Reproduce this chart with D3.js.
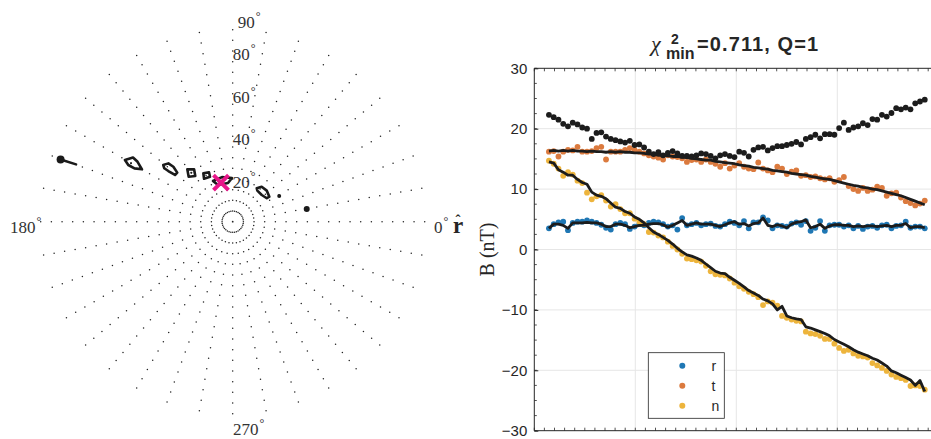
<!DOCTYPE html>
<html>
<head>
<meta charset="utf-8">
<script src="https://cdn.jsdelivr.net/npm/d3@7"></script>
<style>
  body { margin: 0; background: #fff; }
  svg { display: block; }
</style>
</head>
<body>
<svg id="fig" width="931" height="439"></svg>
<script>
// ---------- data: right panel (field components, nT) ----------
var t0 = 0.145, dt = 0.0471;   // sample times along the x axis
var Bmag = [22.3,21.9,21.5,20.8,20.4,21.0,20.7,20.2,20.0,18.3,
            19.3,19.4,18.7,18.3,18.1,17.9,17.7,18.0,17.3,17.4,
            16.9,16.2,15.8,16.1,15.6,16.0,16.3,15.9,15.5,15.5,
            15.4,15.6,15.9,15.8,15.5,15.1,15.6,15.8,15.5,15.3,
            16.2,16.0,15.4,16.5,16.9,17.0,16.4,16.8,17.1,17.1,
            17.3,17.5,17.8,17.4,18.3,18.6,19.0,18.4,19.1,19.1,
            19.0,20.1,21.0,19.8,20.2,20.4,20.9,20.6,21.6,21.5,
            22.3,22.0,22.6,23.4,23.2,23.5,23.2,24.2,24.5,24.8];
var Br = [3.5,4.2,4.5,4.6,3.2,4.4,4.6,4.6,4.8,4.6,
          4.4,4.1,3.6,3.3,4.2,4.4,4.2,3.4,3.8,4.2,
          4.0,4.4,4.6,4.5,4.2,3.8,4.0,3.3,5.2,4.0,
          4.2,4.4,4.0,4.2,4.3,3.9,3.8,4.2,4.6,4.4,
          4.0,4.7,3.5,4.5,4.5,5.3,4.8,3.5,4.0,3.9,
          3.8,4.3,4.5,4.1,4.7,3.1,3.6,4.7,3.1,4.0,
          4.1,4.1,3.8,4.0,3.5,3.9,3.4,3.8,3.9,3.6,
          4.0,4.1,3.5,3.9,4.0,4.6,3.6,3.8,3.8,3.5];
var Bt = [16.2,16.3,15.4,16.2,16.5,16.4,17.0,16.2,16.2,16.3,
          16.8,17.0,14.9,16.2,16.2,16.2,16.5,16.8,16.5,16.2,
          15.9,15.6,15.4,15.2,14.9,15.6,15.4,15.3,15.1,14.5,
          14.8,14.9,14.5,14.9,14.5,14.2,13.7,14.3,13.4,13.9,
          14.3,13.7,13.4,13.3,14.4,13.4,13.1,12.8,13.7,13.4,
          12.5,12.9,13.1,12.2,12.3,12.0,12.1,11.8,11.6,11.8,
          11.2,11.5,12.0,10.5,10.0,9.7,10.2,9.7,9.9,10.4,
          10.2,8.9,9.3,9.4,8.6,8.0,7.7,7.3,7.6,8.1];
var Bn = [14.7,14.2,13.4,12.2,12.8,12.4,11.4,11.0,9.4,8.3,
          8.8,9.0,8.1,7.1,7.5,6.7,6.0,6.0,5.1,4.6,
          4.2,2.9,2.8,2.3,2.0,1.3,0.6,0.0,-0.7,-1.5,
          -1.6,-1.8,-2.0,-2.7,-3.6,-4.1,-4.2,-4.3,-4.8,-5.5,
          -6.1,-6.5,-7.0,-7.4,-7.9,-9.2,-8.6,-8.8,-9.3,-11.0,
          -11.3,-11.6,-11.8,-11.9,-13.6,-13.9,-14.0,-14.3,-14.8,-14.8,
          -15.6,-16.3,-16.8,-16.6,-17.2,-17.6,-17.7,-17.9,-18.8,-19.2,
          -19.6,-20.1,-20.7,-21.1,-21.3,-21.6,-22.6,-22.5,-22.6,-23.2];
var fitR = [3.5,4.2,4.2,4.0,3.5,4.4,4.4,4.4,4.5,4.4,
            4.4,4.2,3.8,3.8,4.2,4.2,4.0,3.6,3.8,4.0,
            4.0,4.2,4.3,4.3,4.1,3.7,4.0,4.4,4.8,4.0,
            4.2,4.4,4.2,4.2,4.2,4.0,3.8,4.1,4.4,4.6,
            4.2,4.3,3.9,4.3,4.4,5.2,4.0,3.8,4.1,3.9,
            3.6,4.2,4.5,4.6,4.9,3.6,3.8,4.2,3.5,3.9,
            4.1,4.1,4.0,4.0,3.8,3.9,3.8,3.9,3.9,3.8,
            3.9,4.0,3.8,4.0,4.0,4.3,3.6,3.8,3.8,3.6];
var fitT = [16.3,16.4,16.3,16.4,16.3,16.4,16.3,16.3,16.2,16.3,
            16.2,16.2,16.1,16.2,16.1,16.2,16.1,16.1,16.0,16.0,
            15.9,15.8,15.8,15.6,15.6,15.5,15.4,15.4,15.3,15.2,
            15.1,15.0,14.9,14.8,14.8,14.6,14.5,14.4,14.3,14.2,
            14.0,13.9,13.8,13.6,13.5,13.4,13.3,13.1,13.0,12.9,
            12.8,12.6,12.5,12.4,12.3,12.1,12.0,11.8,11.7,11.6,
            11.4,11.2,11.0,10.8,10.6,10.5,10.3,10.2,10.0,9.9,
            9.7,9.5,9.3,9.1,8.9,8.6,8.3,8.0,7.7,7.4];
var fitN = [14.5,14.3,13.2,12.8,12.3,12.3,11.6,11.1,10.8,9.5,
            9.0,8.8,8.4,7.7,7.0,6.8,6.3,6.0,5.4,5.0,
            4.4,3.6,2.9,2.5,2.0,1.5,0.9,0.2,-0.4,-0.9,
            -1.1,-1.4,-1.8,-2.4,-3.0,-3.6,-3.9,-4.0,-4.6,-5.1,
            -5.6,-6.2,-6.8,-7.2,-7.6,-8.2,-8.5,-9.0,-10.0,-9.4,
            -11.0,-11.3,-11.5,-11.6,-12.8,-13.0,-13.3,-13.6,-13.9,-14.3,
            -14.9,-15.3,-15.7,-16.1,-16.6,-17.0,-17.3,-17.6,-18.0,-18.3,
            -18.8,-19.3,-20.1,-20.4,-20.8,-21.2,-21.6,-22.5,-21.7,-23.5];

var yTicks = [-30, -20, -10, 0, 10, 20, 30];
var xGrid = [1, 2, 3];
var compNames = ["r", "t", "n"];
var compColors = ["#1f77b4", "#db7a3e", "#edb43c"];

// ---------- data: left panel (polar map, [azimuth deg, polar angle deg]) ----------
var ringLabels = [20, 40, 60, 80, 90];
var contours = [
  [[160.1, 85.8], [159.9, 78.2]],
  [[150.2, 58.2], [147.2, 55.6], [147.8, 52.7], [150.0, 49.1], [151.5, 52.4], [151.5, 55.7], [150.2, 58.2]],
  [[140.8, 42.0], [137.8, 40.7], [137.2, 37.9], [138.5, 34.7], [141.0, 34.8], [141.8, 38.4], [142.0, 40.7], [140.8, 42.0]],
  [[130.9, 32.5], [126.4, 30.5], [129.3, 27.7], [134.4, 29.5], [130.9, 32.5]],
  [[121.3, 26.5], [115.6, 25.7], [116.8, 23.6], [123.7, 24.2], [121.3, 26.5]],
  [[115.8, 21.2], [103.5, 21.5], [90.9, 20.5], [96.9, 18.3], [111.8, 18.5], [115.8, 21.2]],
  [[54.3, 19.3], [50.4, 21.3], [42.4, 21.6], [34.3, 20.8], [34.5, 19.4], [42.6, 18.5], [51.6, 18.6], [54.3, 19.3]]
];
var bigDots = [[160.1, 85.8, 4], [28.9, 24.9, 2], [9.7, 35.2, 3]];
var innerDots = [[150.1, 55.0], [130.2, 30.1]];
var bestFit = [106.7, 19.1];

// ---------- drawing ----------
var svg = d3.select("#fig");
var ink = "#262626";
var serif = "'Liberation Serif', 'Times New Roman', serif";
var sans = "'Liberation Sans', Arial, sans-serif";

// ===== polar panel =====
var cx = 232.7, cy = 221.7;
var rad = d3.scaleLinear().domain([0, 90]).range([0, 192]);
function px(az, th) { return cx + rad(th) * Math.cos(az * Math.PI / 180); }
function py(az, th) { return cy - rad(th) * Math.sin(az * Math.PI / 180); }

var polar = svg.append("g").attr("class", "polar");

// dotted spokes every 10 deg, one dot every 5 deg of polar angle
var spokeAz = d3.range(0, 360, 10), dotTh = d3.range(5, 91, 5);
spokeAz.forEach(function(a) {
  polar.selectAll(null).data(dotTh).enter().append("circle")
    .attr("cx", function(d) { return px(a, d); })
    .attr("cy", function(d) { return py(a, d); })
    .attr("r", 0.75).attr("fill", "#222");
});
polar.append("circle").attr("cx", cx).attr("cy", cy).attr("r", 0.9).attr("fill", "#222");

function degLabel(g, x, y, txt) {
  var t = g.append("text").attr("x", x).attr("y", y)
    .attr("font-family", serif).attr("font-size", 17).attr("fill", "#333");
  t.append("tspan").text(txt);
  t.append("tspan").attr("font-size", 12).attr("dy", -8).attr("dx", 1).attr("fill", "#333").text("\u00b0");
  return t;
}
ringLabels.forEach(function(v) {
  var yy = v === 90 ? cy - rad(v) - 2 : cy - rad(v) + 9;
  var xx = v === 90 ? cx + 5 : cx;
  degLabel(polar, xx, yy, String(v));
});
degLabel(polar, 10, 233, "180");
degLabel(polar, 233, 435, "270");
degLabel(polar, 434, 233, "0");
polar.append("text").attr("x", 453).attr("y", 233)
  .attr("font-family", serif).attr("font-size", 23).attr("font-weight", "bold")
  .attr("fill", ink).text("r");
polar.append("text").attr("x", 455.5).attr("y", 225)
  .attr("font-family", serif).attr("font-size", 15).attr("font-weight", "bold")
  .attr("fill", ink).text("\u02c6");

var cLine = d3.line().x(function(d) { return px(d[0], d[1]); }).y(function(d) { return py(d[0], d[1]); });
polar.selectAll("path.cont").data(contours).enter().append("path")
  .attr("class", "cont").attr("d", cLine)
  .attr("fill", "none").attr("stroke", "#1a1a1a").attr("stroke-width", 2.6)
  .attr("stroke-linejoin", "round").attr("stroke-linecap", "round");
polar.selectAll("circle.big").data(bigDots).enter().append("circle")
  .attr("class", "big")
  .attr("cx", function(d) { return px(d[0], d[1]); })
  .attr("cy", function(d) { return py(d[0], d[1]); })
  .attr("r", function(d) { return d[2]; }).attr("fill", "#1a1a1a");
polar.selectAll("circle.inner").data(innerDots).enter().append("circle")
  .attr("class", "inner")
  .attr("cx", function(d) { return px(d[0], d[1]); })
  .attr("cy", function(d) { return py(d[0], d[1]); })
  .attr("r", 1).attr("fill", "#1a1a1a");

var bx = px(bestFit[0], bestFit[1]), by = py(bestFit[0], bestFit[1]);
polar.append("path")
  .attr("d", "M" + (bx - 7.5) + "," + (by - 7.5) + "L" + (bx + 7.5) + "," + (by + 7.5) +
             "M" + (bx - 7.5) + "," + (by + 7.5) + "L" + (bx + 7.5) + "," + (by - 7.5))
  .attr("stroke", "#e8178a").attr("stroke-width", 4).attr("stroke-linecap", "butt");

// ===== time-series panel =====
var xLeft = 534.3, yTop = 68.3, yBot = 430.7;
var x = d3.scaleLinear().domain([0, 4]).range([xLeft, xLeft + 404]);
var y = d3.scaleLinear().domain([-30, 30]).range([yBot, yTop]);
var tx = function(d, i) { return x(t0 + i * dt); };

var plot = svg.append("g").attr("class", "ts");

// grid
plot.selectAll("line.gy").data(yTicks.slice(1, -1)).enter().append("line")
  .attr("x1", xLeft).attr("x2", 931).attr("y1", y).attr("y2", y)
  .attr("stroke", "#e6e6e6").attr("stroke-width", 1);
plot.selectAll("line.gx").data(xGrid).enter().append("line")
  .attr("x1", x).attr("x2", x).attr("y1", yTop).attr("y2", yBot)
  .attr("stroke", "#e6e6e6").attr("stroke-width", 1);

// scatter
function dots(data, col) {
  plot.append("g").selectAll("circle").data(data).enter().append("circle")
    .attr("cx", tx).attr("cy", function(d) { return y(d); })
    .attr("r", 2.9).attr("fill", col);
}
dots(Br, compColors[0]);
dots(Bt, compColors[1]);
dots(Bn, compColors[2]);
dots(Bmag, "#1c1c1c");

// model fits
var ln = d3.line().x(tx).y(function(d) { return y(d); });
[fitR, fitT, fitN].forEach(function(f) {
  plot.append("path").datum(f).attr("d", ln)
    .attr("fill", "none").attr("stroke", "#1c1c1c").attr("stroke-width", 2.8)
    .attr("stroke-linejoin", "round");
});

// axes (ticks inward)
var yAx = d3.axisLeft(y).tickValues(yTicks).tickSize(-4).tickPadding(7);
var gY = plot.append("g").attr("transform", "translate(" + xLeft + ",0)").call(yAx);
gY.select(".domain").remove();
gY.selectAll(".tick line").attr("stroke", ink);
gY.selectAll("text").attr("font-family", sans)
  .attr("font-size", 15).attr("fill", ink);

var yMinor = d3.range(-30, 30.1, 2.5);
plot.selectAll("line.ym").data(yMinor).enter().append("line")
  .attr("x1", xLeft).attr("x2", xLeft + 2.5).attr("y1", y).attr("y2", y)
  .attr("stroke", ink).attr("stroke-width", 0.8);

var xMinor = d3.range(0, 4.01, 0.1);
plot.selectAll("line.xb").data(xMinor).enter().append("line")
  .attr("x1", x).attr("x2", x).attr("y1", yBot).attr("y2", yBot - 3)
  .attr("stroke", ink).attr("stroke-width", 0.8);
plot.selectAll("line.xt").data(xMinor).enter().append("line")
  .attr("x1", x).attr("x2", x).attr("y1", yTop).attr("y2", yTop + 3)
  .attr("stroke", ink).attr("stroke-width", 0.8);

plot.append("path")
  .attr("d", "M931," + yTop + "H" + xLeft + "V" + yBot + "H931")
  .attr("fill", "none").attr("stroke", ink).attr("stroke-width", 1);

// y label
plot.append("text")
  .attr("transform", "translate(494," + y(0) + ") rotate(-90)")
  .attr("text-anchor", "middle")
  .attr("font-family", serif).attr("font-size", 20).attr("fill", ink)
  .text("B (nT)");

// title
var title = plot.append("g").attr("fill", ink);
title.append("text").attr("x", 651).attr("y", 51)
  .attr("font-family", serif).attr("font-style", "italic").attr("font-size", 22).text("\u03c7");
title.append("text").attr("x", 671).attr("y", 44)
  .attr("font-family", sans).attr("font-weight", "bold").attr("font-size", 14).text("2");
title.append("text").attr("x", 666).attr("y", 59)
  .attr("font-family", sans).attr("font-weight", "bold").attr("font-size", 16).text("min");
title.append("text").attr("x", 697).attr("y", 51)
  .attr("font-family", sans).attr("font-weight", "bold").attr("font-size", 20)
  .attr("letter-spacing", 1.1).text("=0.711, Q=1");

// legend
var lg = plot.append("g");
lg.append("rect").attr("x", 648.3).attr("y", 352.7).attr("width", 76).attr("height", 65.6)
  .attr("fill", "#fff").attr("stroke", ink).attr("stroke-width", 0.8);
lg.selectAll("circle").data(compNames).enter().append("circle")
  .attr("cx", 682.3).attr("cy", function(d, i) { return 365.7 + i * 20; })
  .attr("r", 3).attr("fill", function(d, i) { return compColors[i]; });
lg.selectAll("text").data(compNames).enter().append("text")
  .attr("x", 711.5).attr("y", function(d, i) { return 370.5 + i * 20; })
  .attr("font-family", sans).attr("font-size", 14).attr("fill", ink)
  .text(function(d) { return d; });
</script>
</body>
</html>
